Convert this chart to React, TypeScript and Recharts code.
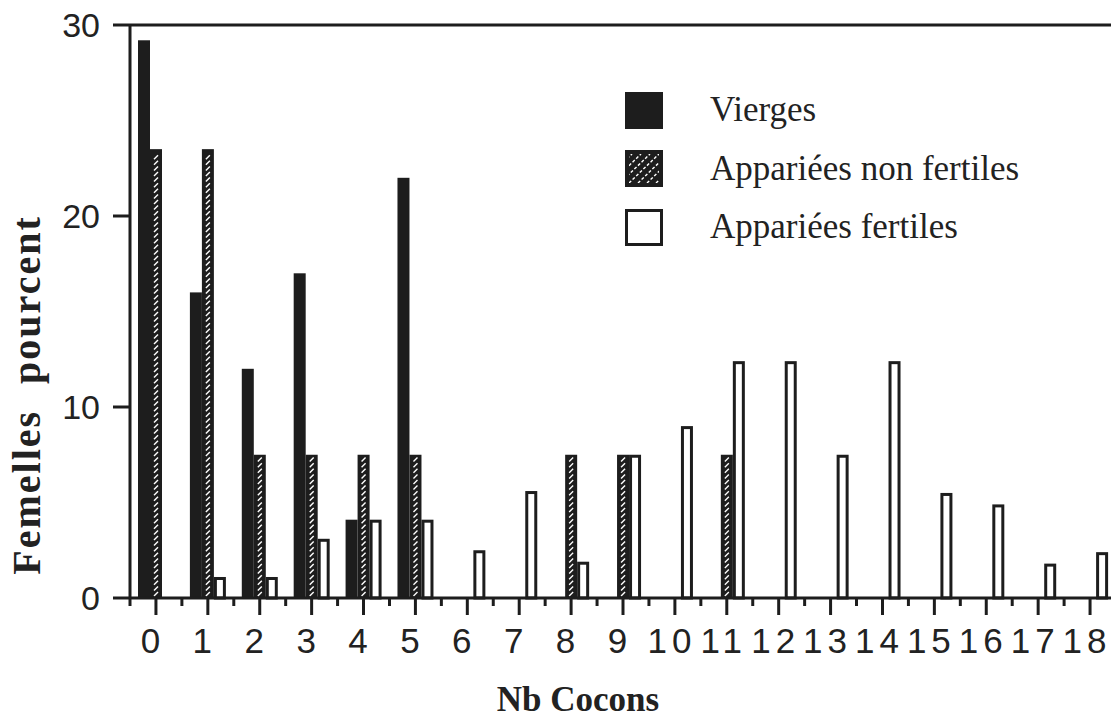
import React from "react";
import { BarChart, Bar, XAxis, YAxis, Legend, ReferenceLine } from "recharts";

// number of cocoons laid
const categories = [
  "0", "1", "2", "3", "4", "5", "6", "7", "8", "9",
  "10", "11", "12", "13", "14", "15", "16", "17", "18",
];
// % of females
const vierges = [29.2, 16, 12, 17, 4.1, 22, 0, 0, 0, 0, 0, 0, 0, 0, 0, 0, 0, 0, 0];
const nonFertiles = [23.5, 23.5, 7.5, 7.5, 7.5, 7.5, 0, 0, 7.5, 7.5, 0, 7.5, 0, 0, 0, 0, 0, 0, 0];
const fertiles = [0, 1.1, 1.1, 3.1, 4.1, 4.1, 2.5, 5.6, 1.9, 7.5, 9, 12.4, 12.4, 7.5, 12.4, 5.5, 4.9, 1.8, 2.4];
const yTicks = [0, 10, 20, 30];
const seriesOrder = ["vierges", "nonFertiles", "fertiles"];

const INK = "#1d1d1d";
const TEXT = "#222";
const WIDTH = 1116;
const HEIGHT = 722;
const Y_AXIS_W = 130;
const HALF_BAND = (WIDTH - Y_AXIS_W) / categories.length / 2;

const data = categories.map((n, i) => ({
  n,
  vierges: vierges[i],
  nonFertiles: nonFertiles[i],
  fertiles: fertiles[i],
}));

const SolidBar = (props: any) => {
  const { x, y, width, height } = props;
  if (!(height > 0)) return <g />;
  return <rect x={x} y={y} width={width} height={height} fill={INK} />;
};

const HatchedBar = (props: any) => {
  const { x, y, width, height } = props;
  if (!(height > 0)) return <g />;
  const cx = x + width / 2;
  const marks = [];
  for (let yy = y + height - 4; yy > y + 4; yy -= 5.6) {
    marks.push(
      <line key={yy} x1={cx - 2} y1={yy + 2} x2={cx + 2} y2={yy - 2} stroke="#fff" strokeWidth={1.4} />
    );
  }
  return (
    <g>
      <rect x={x} y={y} width={width} height={height} fill={INK} />
      {marks}
    </g>
  );
};

const OutlineBar = (props: any) => {
  const { x, y, width, height } = props;
  if (!(height > 0)) return <g />;
  return (
    <rect
      x={x + 1.5}
      y={y + 1.5}
      width={width - 3}
      height={height - 1.5}
      fill="#fff"
      stroke={INK}
      strokeWidth={3}
    />
  );
};

const XTick = (props: any) => {
  const { x, y, payload, index } = props;
  return (
    <g>
      <line x1={x} x2={x} y1={y} y2={y + 17} stroke={INK} strokeWidth={3} />
      <line x1={x - HALF_BAND} x2={x - HALF_BAND} y1={y} y2={y + 8} stroke={INK} strokeWidth={3} />
      {index === categories.length - 1 && (
        <line x1={x + HALF_BAND} x2={x + HALF_BAND} y1={y} y2={y + 8} stroke={INK} strokeWidth={3} />
      )}
      <text
        x={x - 3}
        y={y + 55}
        textAnchor="middle"
        fontSize={35}
        fontFamily='"Liberation Sans", Arial, sans-serif'
        letterSpacing={5}
        fill={TEXT}
      >
        {payload.value}
      </text>
    </g>
  );
};

const Swatch = ({ kind }: { kind: string }) => {
  if (kind === "vierges") {
    return (
      <svg width={38} height={37}>
        <rect x={0} y={0} width={38} height={37} fill={INK} />
      </svg>
    );
  }
  if (kind === "nonFertiles") {
    const lines = [];
    for (let k = -3; k <= 3; k++) {
      const off = k * 9;
      lines.push(
        <line
          key={k}
          x1={4 + off}
          y1={33}
          x2={34 + off}
          y2={4}
          stroke="#fff"
          strokeWidth={1.4}
          strokeDasharray="3 2"
        />
      );
    }
    return (
      <svg width={38} height={37}>
        <defs>
          <clipPath id="legHatch">
            <rect x={4} y={4} width={30} height={29} />
          </clipPath>
        </defs>
        <rect x={0} y={0} width={38} height={37} fill={INK} />
        <g clipPath="url(#legHatch)">{lines}</g>
      </svg>
    );
  }
  return (
    <svg width={38} height={37}>
      <rect x={1.5} y={1.5} width={35} height={34} fill="#fff" stroke={INK} strokeWidth={3} />
    </svg>
  );
};

const renderLegend = (props: any) => {
  const items = [...(props.payload || [])].sort(
    (a: any, b: any) => seriesOrder.indexOf(a.dataKey) - seriesOrder.indexOf(b.dataKey)
  );
  return (
    <div>
      {items.map((entry: any) => (
        <div key={entry.value} style={{ display: "flex", alignItems: "center", height: 58.5 }}>
          <Swatch kind={entry.dataKey} />
          <span
            style={{
              marginLeft: 47,
              fontFamily: '"Liberation Serif", "Times New Roman", serif',
              fontSize: 35,
              color: TEXT,
              whiteSpace: "nowrap",
            }}
          >
            {entry.value}
          </span>
        </div>
      ))}
    </div>
  );
};

const renderYLabel = () => (
  <text
    x={40}
    y={395}
    transform="rotate(-90 40 395)"
    textAnchor="middle"
    fontFamily='"Liberation Serif", "Times New Roman", serif'
    fontWeight="bold"
    fontSize={40}
    letterSpacing={2}
    wordSpacing={14}
    fill={TEXT}
  >
    Femelles pourcent
  </text>
);

const renderXLabel = () => (
  <text
    x={578}
    y={711}
    textAnchor="middle"
    fontFamily='"Liberation Serif", "Times New Roman", serif'
    fontWeight="bold"
    fontSize={35}
    fill={TEXT}
  >
    Nb Cocons
  </text>
);

export default function App() {
  return (
    <div
      style={{
        position: "absolute",
        left: 0,
        top: 0,
        width: 1111,
        height: 722,
        overflow: "hidden",
        background: "#fff",
      }}
    >
      <BarChart
        width={WIDTH}
        height={HEIGHT}
        data={data}
        margin={{ top: 25, right: 0, bottom: 0, left: 0 }}
        barSize={12}
        barGap={0}
      >
        <XAxis
          dataKey="n"
          height={124}
          interval={0}
          tickSize={0}
          tickMargin={0}
          tickLine={false}
          axisLine={{ stroke: INK, strokeWidth: 3 }}
          tick={(p: any) => <XTick {...p} />}
          label={renderXLabel}
        />
        <YAxis
          width={Y_AXIS_W}
          domain={[0, 30]}
          ticks={yTicks}
          interval={0}
          tickSize={17}
          tickMargin={13}
          axisLine={{ stroke: INK, strokeWidth: 3 }}
          tickLine={{ stroke: INK, strokeWidth: 3 }}
          tick={{ fill: TEXT, fontSize: 34, fontFamily: '"Liberation Sans", Arial, sans-serif' }}
          label={renderYLabel}
        />
        <ReferenceLine y={30} stroke={INK} strokeWidth={3} />
        <Legend
          layout="vertical"
          align="center"
          verticalAlign="middle"
          wrapperStyle={{ left: 625, top: 81, width: 470 }}
          content={renderLegend}
        />
        <Bar dataKey="vierges" name="Vierges" shape={SolidBar} isAnimationActive={false} />
        <Bar dataKey="nonFertiles" name="Appariées non fertiles" shape={HatchedBar} isAnimationActive={false} />
        <Bar dataKey="fertiles" name="Appariées fertiles" shape={OutlineBar} isAnimationActive={false} />
      </BarChart>
    </div>
  );
}
